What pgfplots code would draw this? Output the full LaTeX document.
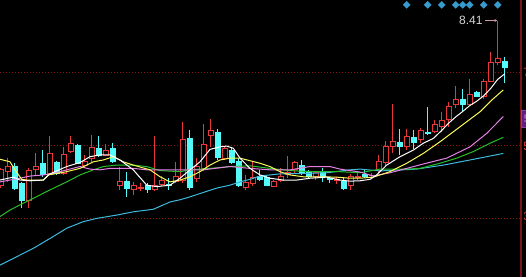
\documentclass[border=0pt]{standalone}
\usepackage{fontspec}
\setmainfont{Liberation Sans}
\usepackage{pgfplots}
\pgfplotsset{compat=1.18}
\usetikzlibrary{arrows.meta}
\definecolor{cr}{RGB}{232,56,56}
\definecolor{cc}{RGB}{84,250,250}
\definecolor{maW}{RGB}{255,255,255}
\definecolor{maY}{RGB}{250,250,90}
\definecolor{maM}{RGB}{228,128,228}
\definecolor{maG}{RGB}{40,190,40}
\definecolor{maC}{RGB}{60,185,220}
\definecolor{gridr}{RGB}{140,22,22}
\definecolor{dia}{RGB}{55,155,205}
\definecolor{boxv}{RGB}{100,30,130}
% up candle (hollow red): index, open, high, low, close
\newcommand\U[5]{%
 \pgfmathsetmacro\xa{#1-0.37}\pgfmathsetmacro\xb{#1+0.37}%
 \edef\doit{\noexpand\addplot[cr,line width=1pt] coordinates {(#1,#3) (#1,#4)};%
 \noexpand\addplot[draw=cr,fill=black,line width=0.9pt] coordinates {(\xa,#2) (\xb,#2) (\xb,#5) (\xa,#5)} -- cycle;}%
 \doit}
% down candle (filled cyan)
\newcommand\D[5]{%
 \pgfmathsetmacro\xa{#1-0.37}\pgfmathsetmacro\xb{#1+0.37}%
 \edef\doit{\noexpand\addplot[cc,line width=1pt] coordinates {(#1,#3) (#1,#4)};%
 \noexpand\addplot[draw=cc,fill=cc,line width=0.9pt] coordinates {(\xa,#2) (\xb,#2) (\xb,#5) (\xa,#5)} -- cycle;}%
 \doit}
\begin{document}
\begin{tikzpicture}
\fill[black] (0,0) rectangle (526pt,277pt);
\begin{axis}[at={(0,0)}, anchor=south west, hide axis, scale only axis,
  width=526pt, height=277pt, xmin=-0.1, xmax=75.04, ymin=1.384, ymax=8.9726,
  every axis plot/.append style={mark=none}]
% grid
\addplot[gridr, line width=1pt, dash pattern=on 1pt off 2pt] coordinates {(-0.1,7) (74.3,7)};
\addplot[gridr, line width=1pt, dash pattern=on 1pt off 2pt] coordinates {(-0.1,5) (74.3,5)};
\addplot[gridr, line width=1pt, dash pattern=on 1pt off 2pt] coordinates {(-0.1,3) (74.3,3)};
% candles
\U{0}{3.90}{4.37}{3.82}{4.32}
\U{1}{4.27}{4.64}{3.99}{4.41}
\D{2}{4.41}{4.51}{3.77}{3.82}
\D{3}{3.96}{3.99}{3.27}{3.49}
\U{4}{3.47}{4.38}{3.27}{4.30}
\U{5}{4.34}{4.78}{4.18}{4.42}
\D{6}{4.50}{4.86}{4.13}{4.18}
\U{7}{4.22}{5.25}{4.18}{4.77}
\D{8}{4.52}{4.57}{4.18}{4.21}
\U{9}{4.22}{4.95}{4.18}{4.75}
\U{10}{4.82}{5.25}{4.77}{5.03}
\D{11}{5.00}{5.03}{4.48}{4.50}
\U{12}{4.45}{4.73}{4.41}{4.56}
\U{13}{4.64}{5.27}{4.53}{4.92}
\D{14}{4.91}{5.25}{4.68}{4.71}
\U{15}{4.71}{5.03}{4.70}{4.86}
\D{16}{4.91}{5.06}{4.50}{4.54}
\U{17}{3.88}{4.41}{3.77}{3.99}
\D{18}{3.99}{4.27}{3.57}{3.81}
\U{19}{3.79}{3.99}{3.63}{3.90}
\U{20}{3.80}{3.95}{3.75}{3.84}
\D{21}{3.88}{3.96}{3.69}{3.79}
\U{22}{3.79}{5.25}{3.75}{3.88}
\U{23}{3.93}{4.15}{3.88}{4.04}
\D{24}{3.93}{4.10}{3.77}{3.88}
\U{25}{4.01}{4.54}{3.95}{4.13}
\U{26}{4.04}{5.64}{3.96}{5.14}
\D{27}{5.18}{5.41}{3.77}{3.84}
\U{28}{4.09}{4.64}{3.99}{4.41}
\U{29}{4.36}{5.57}{4.29}{5.02}
\U{30}{5.27}{5.70}{4.95}{5.39}
\D{31}{5.34}{5.43}{4.59}{4.66}
\U{32}{4.64}{4.95}{4.59}{4.90}
\D{33}{4.86}{4.95}{4.48}{4.52}
\D{34}{4.54}{4.64}{3.84}{3.90}
\U{35}{3.84}{4.18}{3.77}{3.97}
\U{36}{3.96}{4.53}{3.88}{4.10}
\D{37}{4.15}{4.32}{4.01}{4.06}
\D{38}{4.11}{4.18}{3.88}{3.90}
\U{39}{3.86}{4.04}{3.85}{3.99}
\U{40}{4.02}{4.36}{3.99}{4.15}
\U{41}{4.18}{4.70}{4.09}{4.24}
\U{42}{4.33}{4.56}{4.23}{4.52}
\D{43}{4.45}{4.59}{4.18}{4.24}
\D{44}{4.27}{4.32}{4.10}{4.15}
\U{45}{4.15}{4.29}{4.04}{4.24}
\D{46}{4.24}{4.37}{3.99}{4.15}
\D{47}{4.075}{4.12}{3.95}{4.055}
\U{48}{4.025}{4.12}{3.93}{4.045}
\D{49}{4.01}{4.10}{3.77}{3.81}
\U{50}{3.88}{4.21}{3.77}{4.13}
\U{51}{4.11}{4.22}{4.04}{4.15}
\D{52}{4.20}{4.32}{4.10}{4.13}
\U{53}{4.155}{4.22}{4.11}{4.175}
\U{54}{4.30}{4.73}{4.22}{4.54}
\U{55}{4.52}{5.11}{4.39}{4.97}
\U{56}{4.95}{6.12}{4.77}{5.09}
\D{57}{5.06}{5.43}{4.73}{4.95}
\U{58}{4.95}{5.43}{4.86}{5.23}
\D{59}{5.21}{5.41}{4.88}{5.06}
\U{60}{5.14}{5.46}{5.05}{5.41}
\D{61}{5.345}{6.03}{5.27}{5.325}
\U{62}{5.36}{5.69}{5.32}{5.55}
\U{63}{5.52}{5.91}{5.36}{5.67}
\U{64}{5.70}{6.19}{5.50}{6.07}
\U{65}{6.10}{6.62}{6.01}{6.26}
\D{66}{6.26}{6.53}{5.91}{6.10}
\U{67}{6.12}{6.80}{6.07}{6.39}
\D{68}{6.44}{6.49}{6.31}{6.32}
\U{69}{6.32}{6.80}{6.25}{6.73}
\U{70}{6.73}{7.56}{6.72}{7.27}
\U{71}{7.25}{8.41}{7.19}{7.38}
\D{72}{7.28}{7.40}{6.71}{7.12}
% moving averages
\addplot[maC, line width=1pt] coordinates {(-0.1,1.71)(2.29,1.94)(4.66,2.17)(7.04,2.44)(9.43,2.72)(11.8,2.90)(13.71,2.99)(16.57,3.08)(18.94,3.17)(21.8,3.24)(24.19,3.44)(25.61,3.50)(27.04,3.58)(28.94,3.70)(30.86,3.82)(32.76,3.90)(34.19,3.99)(35.61,4.06)(37.04,4.15)(39.9,4.21)(43.23,4.22)(46.57,4.24)(49.9,4.32)(51.33,4.34)(54.19,4.29)(59.43,4.34)(63.23,4.45)(67.04,4.59)(71.8,4.77)};
\addplot[maG, line width=1pt] coordinates {(-0.1,3.04)(1.33,3.22)(2.76,3.36)(4.66,3.54)(7.04,3.77)(9.43,3.99)(11.33,4.18)(13.23,4.32)(14.66,4.41)(16.57,4.45)(18.94,4.45)(20.86,4.41)(22.76,4.30)(25.61,4.27)(27.04,4.32)(29.9,4.36)(32.76,4.41)(35.61,4.43)(38.47,4.36)(41.33,4.30)(44.19,4.27)(48.47,4.27)(51.33,4.24)(54.19,4.34)(58,4.34)(59.9,4.36)(62.76,4.50)(65.14,4.64)(67.51,4.82)(69.9,5.05)(71.8,5.21)};
\addplot[maM, line width=1pt] coordinates {(-0.1,3.99)(1.33,4.04)(2.76,4.09)(4.19,4.15)(6.09,4.18)(7.51,4.22)(9.43,4.32)(11.33,4.41)(12.76,4.34)(14.19,4.32)(15.61,4.36)(17.04,4.36)(18.94,4.36)(20.86,4.32)(22.76,4.32)(25.61,4.32)(28.94,4.32)(32.76,4.41)(35.61,4.36)(38.47,4.32)(41.33,4.32)(44.19,4.41)(47.04,4.41)(48.47,4.34)(51.33,4.26)(53.23,4.15)(55.61,4.24)(58,4.36)(60.37,4.48)(63.71,4.64)(67.04,4.95)(69.43,5.32)(71.8,5.78)};
\addplot[maY, line width=1pt] coordinates {(-0.1,4.61)(1.33,4.54)(2.04,4.32)(3,4.06)(3.71,4.04)(6.09,4.04)(6.8,4.18)(8,4.22)(9.43,4.27)(11.33,4.36)(13.23,4.54)(14.66,4.59)(16.09,4.68)(17.51,4.54)(18.94,4.45)(21.33,4.32)(22.76,4.13)(24.19,3.99)(25.61,4.04)(27.04,4.13)(28.47,4.27)(29.9,4.45)(31.33,4.59)(32.76,4.64)(34.19,4.64)(35.61,4.57)(37.04,4.50)(38.47,4.41)(39.9,4.27)(41.33,4.18)(43.23,4.13)(45.61,4.13)(48,4.12)(49.9,4.09)(51.33,4.09)(53.23,4.12)(55.61,4.27)(58,4.50)(60.37,4.77)(62.76,5.09)(65.61,5.50)(68.47,5.91)(70.14,6.23)(71.8,6.51)};
\addplot[maW, line width=1pt] coordinates {(-0.1,4.04)(1.8,4.12)(2.76,4.04)(4.19,4.02)(6.09,4.04)(7.04,4.21)(9.43,4.41)(11.33,4.52)(12.76,4.68)(14.19,4.73)(15.61,4.73)(17.04,4.59)(18.94,4.32)(20.86,3.90)(22.29,3.86)(24.19,3.90)(25.61,4.09)(27.04,4.32)(28.47,4.54)(29.9,4.88)(31.33,4.95)(32.29,4.97)(33.23,4.91)(34.19,4.64)(35.61,4.36)(37.04,4.18)(38.47,4.09)(40.37,4.04)(42.29,4.04)(44.19,4.09)(46.57,4.12)(48.47,4.04)(49.9,4.01)(51.33,4.02)(52.76,4.06)(53.71,4.18)(55.14,4.45)(57.04,4.68)(58.94,4.86)(60.37,5.05)(61.8,5.18)(63,5.40)(64,5.60)(65,5.77)(66,5.92)(67,6.08)(68,6.20)(69,6.35)(70,6.55)(71,6.80)(72,6.95)};
% signal diamonds
\addplot[only marks, mark=square*, mark size=2.5pt, mark options={rotate=45, fill=dia, draw=dia}] coordinates {(58,8.84)(61,8.84)(63,8.84)(65,8.84)(66,8.84)(67,8.84)(69,8.84)(71,8.84)};
% max price annotation
\addplot[RGB/.code={}, color={rgb,255:red,205;green,150;blue,175}, line width=0.9pt, -{Stealth[length=3pt,width=3pt]}] coordinates {(69.2,8.41) (70.95,8.41)};
\node[anchor=east, inner sep=0pt, text={rgb,255:red,215;green,215;blue,215}, font=\fontsize{12}{12}\selectfont] at (axis cs:68.85,8.41) {8.41};
% right frame and labels
\addplot[color={rgb,255:red,120;green,20;blue,20}, line width=1.2pt] coordinates {(74.33,1.384) (74.33,8.9726)};
\addplot[draw={rgb,255:red,150;green,60;blue,170}, fill=boxv, line width=0.8pt] coordinates {(74.45,5.49) (76,5.49) (76,5.96) (74.45,5.96)} -- cycle;
\node[anchor=west, inner sep=0pt, text={rgb,255:red,225;green,120;blue,225}, font=\fontsize{11}{11}\selectfont] at (axis cs:74.7,5.72) {5.72};
\node[anchor=west, inner sep=0pt, text=cr, font=\fontsize{12}{12}\selectfont] at (axis cs:74.65,6.98) {7.00};
\node[anchor=west, inner sep=0pt, text=cr, font=\fontsize{12}{12}\selectfont] at (axis cs:74.65,4.95) {5.00};
\node[anchor=west, inner sep=0pt, text=cr, font=\fontsize{12}{12}\selectfont] at (axis cs:74.65,3.04) {3.00};
\end{axis}
\pgfresetboundingbox
\path[use as bounding box] (0,0) rectangle (526pt,277pt);
\end{tikzpicture}
\end{document}
